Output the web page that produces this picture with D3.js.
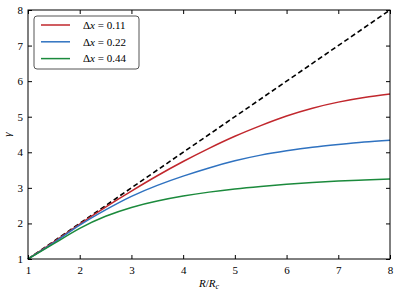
<!DOCTYPE html>
<html>
<head>
<meta charset="utf-8">
<script src="https://cdn.jsdelivr.net/npm/d3@7"></script>
<style>
    body { margin: 0; background: #fff; }
</style>
</head>
<body>
<svg id="chart" width="399" height="294"></svg>
<script>
// Data
const radius = [1, 1.5, 2, 2.5, 3, 3.5, 4, 4.5, 5, 5.5, 6, 6.5, 7, 7.5, 8];
const gammaSmall = [1, 1.48, 1.98, 2.46, 2.91, 3.34, 3.74, 4.11, 4.45, 4.75, 5.02, 5.24, 5.41, 5.54, 5.64];
const gammaMedium = [1, 1.46, 1.95, 2.38, 2.76, 3.07, 3.33, 3.56, 3.76, 3.92, 4.04, 4.14, 4.22, 4.29, 4.34];
const gammaLarge = [1, 1.43, 1.86, 2.20, 2.45, 2.63, 2.77, 2.88, 2.97, 3.04, 3.10, 3.15, 3.19, 3.22, 3.25];
const seriesLabels = ['0.11', '0.22', '0.44'];
const xTicks = [1, 2, 3, 4, 5, 6, 7, 8];
const yTicks = [1, 2, 3, 4, 5, 6, 7, 8];

/**
 * Visual configs.
 */
const margin = { top: 10, right: 9, bottom: 35, left: 28 },
    visWidth = 399, visHeight = 294,
    width = visWidth - margin.left - margin.right,
    height = visHeight - margin.top - margin.bottom,
    colors = ['#c1272d', '#2f72c0', '#1b8a3c'],
    fontFamily = "'Liberation Serif', 'DejaVu Serif', serif",
    tickLen = 4;

const series = [gammaSmall, gammaMedium, gammaLarge].map((ys, i) => ({
    label: seriesLabels[i],
    color: colors[i],
    points: radius.map((r, j) => [r, ys[j]])
}));

const svg = d3.select('#chart').attr('font-family', fontFamily);
const g = svg.append('g').attr('transform', 'translate(' + margin.left + ',' + margin.top + ')');

const xScale = d3.scaleLinear().domain([1, 8]).range([0, width]),
    yScale = d3.scaleLinear().domain([1, 8]).range([height, 0]);

const line = d3.line()
    .x(d => xScale(d[0]))
    .y(d => yScale(d[1]))
    .curve(d3.curveNatural);

// Identity line
g.append('path')
    .attr('d', line([[1, 1], [8, 8]]))
    .attr('fill', 'none')
    .attr('stroke', '#000')
    .attr('stroke-width', 1.6)
    .attr('stroke-dasharray', '5,3');

// Curves
g.selectAll('.curve').data(series).enter().append('path')
    .attr('class', 'curve')
    .attr('d', d => line(d.points))
    .attr('fill', 'none')
    .attr('stroke', d => d.color)
    .attr('stroke-width', 1.5);

// Axes with inward ticks on every side
const fmt = d3.format('d');
const xAxisBottom = d3.axisBottom(xScale).tickValues(xTicks).tickFormat(fmt).tickSizeInner(-tickLen).tickSizeOuter(0).tickPadding(7),
    xAxisTop = d3.axisTop(xScale).tickValues(xTicks).tickSizeInner(-tickLen).tickSizeOuter(0).tickFormat(''),
    yAxisLeft = d3.axisLeft(yScale).tickValues(yTicks).tickFormat(fmt).tickSizeInner(-tickLen).tickSizeOuter(0).tickPadding(5),
    yAxisRight = d3.axisRight(yScale).tickValues(yTicks).tickSizeInner(-tickLen).tickSizeOuter(0).tickFormat('');

const axes = [
    g.append('g').attr('transform', 'translate(0,' + height + ')').call(xAxisBottom),
    g.append('g').call(xAxisTop),
    g.append('g').call(yAxisLeft),
    g.append('g').attr('transform', 'translate(' + width + ',0)').call(yAxisRight)
];
axes.forEach(a => {
    a.attr('font-family', fontFamily).attr('font-size', 11);
    a.select('.domain').remove();
    a.selectAll('line').attr('stroke', '#000');
});

// Frame
g.append('rect')
    .attr('width', width).attr('height', height)
    .attr('fill', 'none')
    .attr('stroke', '#000')
    .attr('stroke-width', 1);

// Axis labels
svg.append('text')
    .attr('x', margin.left + width / 2)
    .attr('y', 287)
    .attr('text-anchor', 'middle')
    .attr('font-size', 11)
    .html('<tspan font-style="italic">R</tspan>/<tspan font-style="italic">R</tspan><tspan font-style="italic" font-size="8" dy="2">c</tspan>');

svg.append('text')
    .attr('transform', 'translate(11,' + (margin.top + height / 2) + ') rotate(-90)')
    .attr('text-anchor', 'middle')
    .attr('font-size', 11)
    .attr('font-style', 'italic')
    .text('γ');

// Legend
const legend = g.append('g').attr('transform', 'translate(6,6)');
legend.append('rect')
    .attr('width', 105).attr('height', 53)
    .attr('rx', 3)
    .attr('fill', '#fff')
    .attr('stroke', '#555')
    .attr('stroke-width', 1);

const item = legend.selectAll('.item').data(series).enter().append('g')
    .attr('class', 'item')
    .attr('transform', (d, i) => 'translate(0,' + (9 + i * 16.8) + ')');
item.append('line')
    .attr('x1', 7).attr('x2', 36)
    .attr('stroke', d => d.color)
    .attr('stroke-width', 1.5);
item.append('text')
    .attr('x', 49).attr('dy', '0.35em')
    .attr('font-size', 11)
    .html(d => 'Δ<tspan font-style="italic">x</tspan> = ' + d.label);
</script>
</body>
</html>
